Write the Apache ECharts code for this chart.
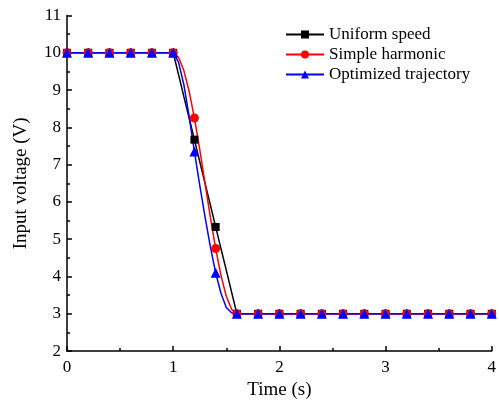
<!DOCTYPE html>
<html>
<head>
<meta charset="utf-8">
<script src="https://cdn.jsdelivr.net/npm/echarts@6/dist/echarts.min.js"></script>
<style>html,body{margin:0;padding:0;background:#fff;}#c{width:499px;height:405px;}</style>
</head>
<body>
<div id="c"></div>
<script>
var times = [0,0.2,0.4,0.6,0.8,1.0,1.05,1.1,1.15,1.2,1.25,1.3,1.35,1.4,1.45,1.5,1.55,1.6,1.8,2.0,2.2,2.4,2.6,2.8,3.0,3.2,3.4,3.6,3.8,4.0];
var markerTimes = [0,0.2,0.4,0.6,0.8,1.0,1.2,1.4,1.6,1.8,2.0,2.2,2.4,2.6,2.8,3.0,3.2,3.4,3.6,3.8,4.0];
var uniformSpeed = [10,10,10,10,10,10,9.42,8.83,8.25,7.67,7.08,6.5,5.92,5.33,4.75,4.17,3.58,3,3,3,3,3,3,3,3,3,3,3,3,3];
var simpleHarmonic = [10,10,10,10,10,10,9.88,9.53,8.97,8.25,7.41,6.5,5.59,4.75,4.03,3.47,3.12,3,3,3,3,3,3,3,3,3,3,3,3,3];
var optimizedTrajectory = [10,10,10,10,10,10,9.75,9.15,8.3,7.35,6.45,5.6,4.8,4.1,3.55,3.17,3.03,3,3,3,3,3,3,3,3,3,3,3,3,3];
var seriesNames = ['Uniform speed','Simple harmonic','Optimized trajectory'];
var xTicks = [0,1,2,3,4];
var yTicks = [2,3,4,5,6,7,8,9,10,11];

function isMarker(t){
  for (var i=0;i<markerTimes.length;i++){ if (Math.abs(markerTimes[i]-t)<1e-6) return true; }
  return false;
}
function build(vals){
  return times.map(function(t,i){
    var d = {value:[t, vals[i]]};
    if (!isMarker(t)) d.symbol = 'none';
    return d;
  });
}
var FONT = 'Liberation Serif';
var chart = echarts.init(document.getElementById('c'), null, {renderer:'canvas'});
function mkSeries(name, vals, color, symbol, size){
  return {
    name:name, type:'line', data:build(vals), symbol:symbol, symbolSize:size,
    showSymbol:true, showAllSymbol:true, clip:false,
    lineStyle:{color:color, width:1.5}, itemStyle:{color:color},
    emphasis:{disabled:true}, animation:false, z: 2
  };
}
chart.setOption({
  animation:false,
  backgroundColor:'#fff',
  grid:{left:67, right:5, top:15.5, bottom:45, containLabel:false},
  legend:{
    orient:'vertical', left:280, top:21, itemWidth:38, itemHeight:10, itemGap:3,
    textStyle:{fontFamily:FONT, fontSize:17, color:'#000'},
    data:seriesNames
  },
  xAxis:{
    type:'value', min:xTicks[0], max:xTicks[xTicks.length-1], interval:1,
    name:'Time (s)', nameLocation:'middle', nameGap:25,
    nameTextStyle:{fontFamily:FONT, fontSize:19, color:'#000'},
    axisLine:{show:true, onZero:false, lineStyle:{color:'#000', width:1.5}},
    axisTick:{show:true, inside:true, length:5, lineStyle:{color:'#000', width:1.5}},
    minorTick:{show:true, splitNumber:2, length:3, lineStyle:{color:'#000', width:1.5}},
    axisLabel:{fontFamily:FONT, fontSize:17, color:'#000', margin:8},
    splitLine:{show:false}
  },
  yAxis:{
    type:'value', min:yTicks[0], max:yTicks[yTicks.length-1], interval:1,
    name:'Input voltage (V)', nameLocation:'middle', nameGap:36,
    nameTextStyle:{fontFamily:FONT, fontSize:19, color:'#000'},
    axisLine:{show:true, onZero:false, lineStyle:{color:'#000', width:1.5}},
    axisTick:{show:true, inside:true, length:5, lineStyle:{color:'#000', width:1.5}},
    minorTick:{show:true, splitNumber:2, length:3, lineStyle:{color:'#000', width:1.5}},
    axisLabel:{fontFamily:FONT, fontSize:17, color:'#000', margin:6},
    splitLine:{show:false}
  },
  series:[
    mkSeries(seriesNames[0], uniformSpeed, '#000000', 'rect', 8),
    mkSeries(seriesNames[1], simpleHarmonic, '#ff0000', 'circle', 9),
    mkSeries(seriesNames[2], optimizedTrajectory, '#0000ff', 'triangle', 10)
  ]
});
</script>
</body>
</html>
